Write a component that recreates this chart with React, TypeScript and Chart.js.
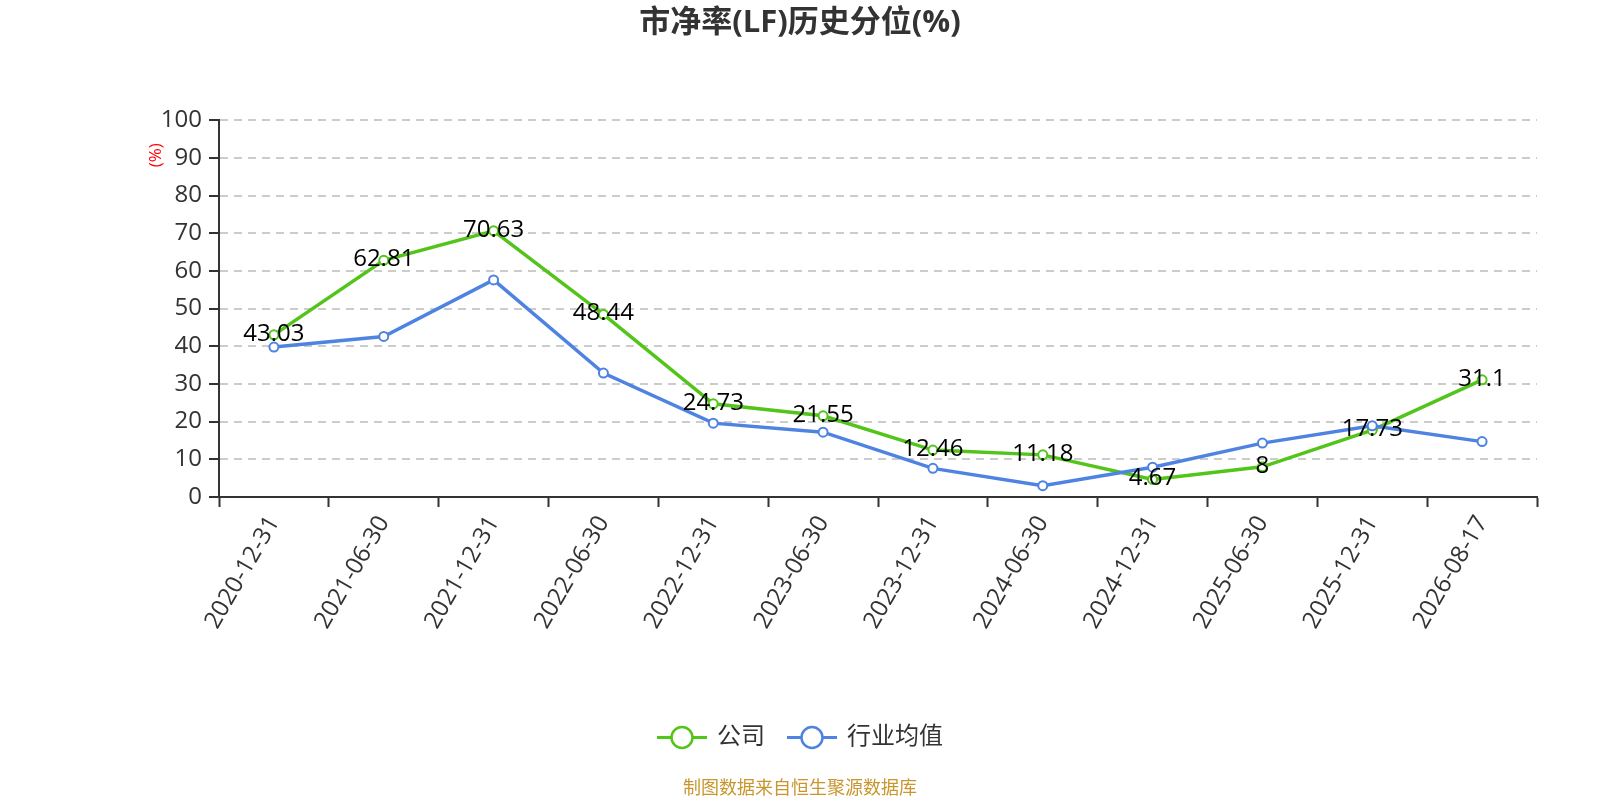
import React, { useEffect, useRef } from "react";
import { Chart, registerables } from "chart.js";

Chart.register(...registerables);

const categories = [
  "2020-12-31",
  "2021-06-30",
  "2021-12-31",
  "2022-06-30",
  "2022-12-31",
  "2023-06-30",
  "2023-12-31",
  "2024-06-30",
  "2024-12-31",
  "2025-06-30",
  "2025-12-31",
  "2026-08-17",
];
const companyValues = [43.03, 62.81, 70.63, 48.44, 24.73, 21.55, 12.46, 11.18, 4.67, 8, 17.73, 31.1];
const industryValues = [39.8, 42.6, 57.6, 32.9, 19.6, 17.2, 7.6, 3.0, 7.9, 14.3, 18.9, 14.7];
const yMin = 0;
const yMax = 100;
const yStep = 10;
const seriesNames = ["公司", "行业均值"];
const titleText = "市净率(LF)历史分位(%)";
const unitText = "(%)";
const footerText = "制图数据来自恒生聚源数据库";

const GREEN = "#52c41a";
const BLUE = "#4f83e2";
const FONT = "'Open Sans', 'Noto Sans CJK SC', sans-serif";

const labelsPlugin = {
  id: "valueLabels",
  afterDatasetsDraw(chart: any) {
    const ctx = chart.ctx;
    const meta = chart.getDatasetMeta(0);
    ctx.save();
    ctx.font = `24px ${FONT}`;
    ctx.fillStyle = "#000";
    ctx.textAlign = "center";
    ctx.textBaseline = "middle";
    meta.data.forEach((pt: any, i: number) => {
      ctx.fillText(String(companyValues[i]), pt.x, pt.y - 1);
    });
    ctx.restore();
  },
};

const extrasPlugin = {
  id: "extras",
  afterDraw(chart: any) {
    const ctx = chart.ctx;
    const area = chart.chartArea;
    // unit label on y axis
    ctx.save();
    ctx.translate(area.left - 62.5, area.top + 35);
    ctx.rotate(-Math.PI / 2);
    ctx.font = `17px ${FONT}`;
    ctx.fillStyle = "#ff0000";
    ctx.textAlign = "center";
    ctx.textBaseline = "middle";
    ctx.fillText(unitText, 0, 0);
    ctx.restore();

    // legend
    ctx.save();
    ctx.font = `24px ${FONT}`;
    const colors = [GREEN, BLUE];
    const iconW = 50;
    const gapText = 10;
    const itemGap = 22;
    const widths = seriesNames.map((n) => ctx.measureText(n).width);
    let total = 0;
    widths.forEach((w, i) => {
      total += iconW + gapText + w + (i < widths.length - 1 ? itemGap : 0);
    });
    let x = chart.width / 2 - total / 2;
    const y = 737.5;
    seriesNames.forEach((name, i) => {
      ctx.strokeStyle = colors[i];
      ctx.lineWidth = 3;
      ctx.beginPath();
      ctx.moveTo(x, y);
      ctx.lineTo(x + iconW, y);
      ctx.stroke();
      ctx.beginPath();
      ctx.arc(x + iconW / 2, y, 10.5, 0, Math.PI * 2);
      ctx.fillStyle = "#fff";
      ctx.fill();
      ctx.lineWidth = 2.5;
      ctx.stroke();
      ctx.fillStyle = "#333";
      ctx.textAlign = "left";
      ctx.textBaseline = "middle";
      ctx.fillText(name, x + iconW + gapText, y);
      x += iconW + gapText + widths[i] + itemGap;
    });
    ctx.restore();

    // footer
    ctx.save();
    ctx.font = `18px ${FONT}`;
    ctx.fillStyle = "#c8962d";
    ctx.textAlign = "center";
    ctx.textBaseline = "middle";
    ctx.fillText(footerText, chart.width / 2, 789);
    ctx.restore();
  },
};

export default function App() {
  const canvasRef = useRef<HTMLCanvasElement | null>(null);

  useEffect(() => {
    if (!canvasRef.current) return;
    Chart.defaults.font.family = FONT;
    const chart = new Chart(canvasRef.current, {
      type: "line",
      data: {
        labels: categories,
        datasets: [
          {
            label: seriesNames[0],
            data: companyValues,
            borderColor: GREEN,
            backgroundColor: "#fff",
            borderWidth: 3.5,
            pointRadius: 4.5,
            pointBorderWidth: 2,
            pointBackgroundColor: "#fff",
            pointBorderColor: GREEN,
            tension: 0,
            order: 1,
          },
          {
            label: seriesNames[1],
            data: industryValues,
            borderColor: BLUE,
            backgroundColor: "#fff",
            borderWidth: 3.5,
            pointRadius: 4.5,
            pointBorderWidth: 2,
            pointBackgroundColor: "#fff",
            pointBorderColor: BLUE,
            tension: 0,
            order: 0,
          },
        ],
      },
      options: {
        responsive: false,
        animation: false,
        events: [],
        layout: { padding: { left: 63, right: 63, top: 0, bottom: 123 } },
        scales: {
          x: {
            type: "category",
            offset: true,
            afterFit: (scale: any) => {
              scale.height = 180;
            },
            grid: {
              display: true,
              drawOnChartArea: false,
              drawTicks: true,
              tickLength: 10,
              tickColor: "#333",
              tickWidth: 2,
              offset: true,
            },
            border: { display: true, color: "#333", width: 2 },
            ticks: {
              autoSkip: false,
              maxRotation: 60,
              minRotation: 60,
              padding: 4,
              color: "#333",
              font: { size: 24, family: FONT },
            },
          },
          y: {
            min: yMin,
            max: yMax,
            afterFit: (scale: any) => {
              scale.width = 156;
            },
            grid: {
              color: "#cccccc",
              lineWidth: 2,
              drawTicks: true,
              tickLength: 10,
              tickColor: "#333",
              tickWidth: 2,
              tickBorderDash: [],
            },
            border: { display: true, color: "#333", width: 2, dash: [8, 6] },
            ticks: {
              stepSize: yStep,
              padding: 7,
              color: "#333",
              font: { size: 24, family: FONT },
            },
          },
        },
        plugins: {
          legend: { display: false },
          tooltip: { enabled: false },
          title: {
            display: true,
            text: titleText,
            color: "#333",
            font: { size: 31, weight: "bold", family: FONT },
            padding: { top: 5, bottom: 78 },
          },
        },
      },
      plugins: [labelsPlugin, extrasPlugin],
    } as any);
    return () => chart.destroy();
  }, []);

  return (
    <div style={{ position: "absolute", left: 0, top: 0, width: 1600, height: 800, background: "#fff" }}>
      <canvas ref={canvasRef} width={1600} height={800} style={{ width: 1600, height: 800 }} />
    </div>
  );
}
